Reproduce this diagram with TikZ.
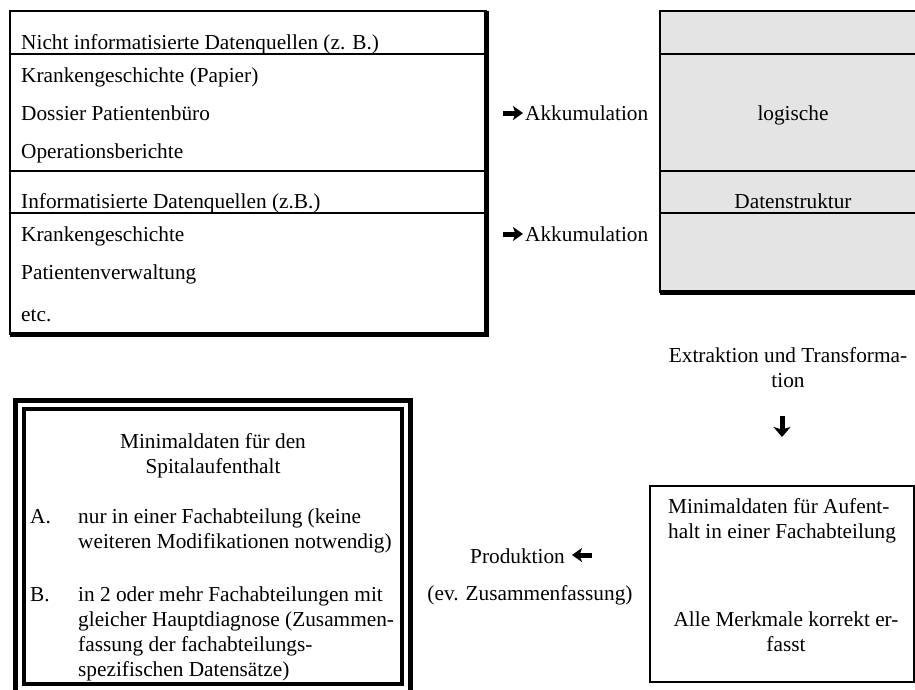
\documentclass[tikz,border=0pt]{standalone}
\usepackage{fontspec}
\setmainfont{Liberation Serif}
\usetikzlibrary{arrows.meta}
\definecolor{hellgrau}{RGB}{228,228,228}

\begin{document}
\begin{tikzpicture}[x=1pt,y=-1pt,font={\fontsize{21.3pt}{25pt}\selectfont},
		kasten/.style={draw,line width=1.3pt,anchor=north west,inner sep=0pt,outer sep=0pt},
		duenn/.style={line width=1.3pt}, schatten/.style={line width=5pt},
		txt/.style={anchor=base west,inner sep=0pt,align=left},
		mtxt/.style={anchor=base,inner sep=0pt,align=center},
		pfeil/.style={line width=5pt,-{Stealth[length=10pt,width=14pt,inset=2.5pt]}}]
		\clip (0,0) rectangle (915,689);
		% Datenquellen
		\node[kasten,minimum width=476pt,minimum height=323pt] (quellen) at (10,11) {};
		\draw[schatten] (quellen.north east) -- (quellen.south east) -- (quellen.south west);
		\draw[duenn] (quellen.west |- 0,54) -- (quellen.east |- 0,54);
		\draw[duenn] (quellen.west |- 0,171) -- (quellen.east |- 0,171);
		\draw[duenn] (quellen.west |- 0,213) -- (quellen.east |- 0,213);
		\node[txt] (nichtinf) at (21,49) {Nicht informatisierte Datenquellen (z. B.)};
		\node[txt] (kgpapier) at (21,82) {Krankengeschichte (Papier)};
		\node[txt] (dossier) at (21,120) {Dossier Patientenbüro};
		\node[txt] (opber) at (21,158) {Operationsberichte};
		\node[txt] (inf) at (21,208) {Informatisierte Datenquellen (z.B.)};
		\node[txt] (kg) at (21,241) {Krankengeschichte};
		\node[txt] (patverw) at (21,279) {Patientenverwaltung};
		\node[txt] (etc) at (21,321) {etc.};
		% logische Datenstruktur
		\node[kasten,fill=hellgrau,minimum width=266pt,minimum height=281pt] (struktur) at (660,11) {};
		\draw[schatten] (struktur.north east) -- (struktur.south east) -- (struktur.south west);
		\draw[duenn] (struktur.west |- 0,54) -- (struktur.east |- 0,54);
		\draw[duenn] (struktur.west |- 0,171) -- (struktur.east |- 0,171);
		\draw[duenn] (struktur.west |- 0,213) -- (struktur.east |- 0,213);
		\node[mtxt] (logisch) at (793,120) {logische};
		\node[mtxt] (datstr) at (793,208) {Datenstruktur};
		% Akkumulation
		\node[txt] (akk1) at (525,120) {Akkumulation};
		\node[txt] (akk2) at (525,241) {Akkumulation};
		\draw[pfeil] ([xshift=-22pt,yshift=7pt]akk1.base west) -- ([xshift=-2pt,yshift=7pt]akk1.base west);
		\draw[pfeil] ([xshift=-22pt,yshift=7pt]akk2.base west) -- ([xshift=-2pt,yshift=7pt]akk2.base west);
		% Extraktion
		\node[mtxt] (extr) at (788,387) {Extraktion und Transforma-\\tion};
		\coordinate (ex1) at (782,416);
		\coordinate (ex2) at (782,437);
		\draw[pfeil,-{Stealth[length=10pt,width=17pt,inset=2.5pt]}] (ex1) -- (ex2);
		% Fachabteilung
		\node[kasten,line width=2.5pt,minimum width=264pt,minimum height=196pt] (fach) at (650,486) {};
		\node[txt] (minauf) at (668,538) {Minimaldaten für Aufent-\\halt in einer Fachabteilung};
		\node[mtxt] (merkmale) at (786,651) {Alle Merkmale korrekt er-\\fasst};
		% Produktion
		\node[txt] (prod) at (470,563) {Produktion};
		\node[mtxt] (zusf) at (530,600) {(ev. Zusammenfassung)};
		\draw[pfeil] ([xshift=122pt,yshift=8pt]prod.base west) -- ([xshift=102pt,yshift=8pt]prod.base west);
		% Spitalaufenthalt
		\node[kasten,line width=5pt,minimum width=395pt,minimum height=293pt] (spitalrand) at (15.5,400.5) {};
		\node[kasten,line width=4pt,minimum width=378pt,minimum height=274.5pt] (spital) at (24,409) {};
		\node[mtxt] (spitaltitel) at (213,473) {Minimaldaten für den\\Spitalaufenthalt};
		\node[txt] (pa) at (30,523) {A.};
		\node[txt] (punkta) at (78,548) {nur in einer Fachabteilung (keine\\weiteren Modifikationen notwendig)};
		\node[txt] (pb) at (30,601) {B.};
		\node[txt] (punktb) at (78,676) {in 2 oder mehr Fachabteilungen mit\\gleicher Hauptdiagnose (Zusammen-\\fassung der fachabteilungs-\\spezifischen Datensätze)};
		\end{tikzpicture}
\end{document}
